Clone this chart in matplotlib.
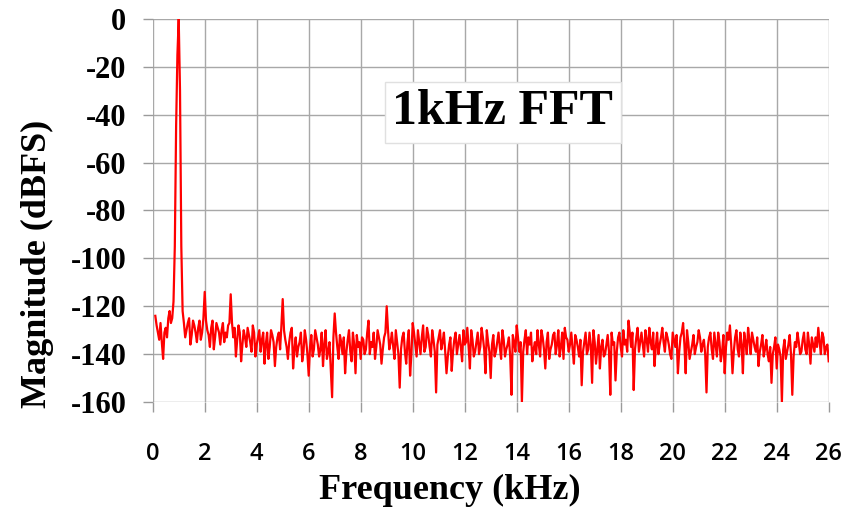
import numpy as np
import matplotlib.pyplot as plt

plt.rcParams['axes.unicode_minus'] = False

# spectrum
# main bins: one value per 0.1 kHz (0.1 .. 26.0 kHz)
freq_khz = np.round(np.arange(1, 261) * 0.1, 1)
mag_dbfs = [
    -124, -131, -127, -142, -129, -125, -127, -118, -45, 0,
    -95, -127, -130, -125, -132, -128, -135, -126, -131, -114,
    -130, -137, -126, -133, -129, -136, -127, -131, -128, -115,
    -133, -141, -128, -143, -130, -137, -132, -139, -131, -136,
    -130, -134, -144, -131, -137, -132, -145, -133, -138, -117,
    -134, -142, -131, -146, -133, -137, -131, -139, -134, -149,
    -132, -138, -133, -141, -131, -136, -142, -135, -158, -123,
    -137, -132, -140, -148, -134, -139, -131, -148, -137, -142,
    -134, -138, -126, -135, -131, -137, -133, -144, -133, -120,
    -138, -131, -142, -135, -154, -133, -139, -135, -149, -127,
    -136, -130, -140, -128, -137, -132, -141, -134, -156, -133,
    -138, -131, -148, -136, -147, -134, -140, -132, -143, -136,
    -129, -146, -134, -139, -131, -137, -133, -148, -135, -150,
    -132, -139, -131, -142, -134, -138, -133, -157, -135, -128,
    -139, -160, -134, -140, -136, -143, -135, -130, -141, -133,
    -146, -131, -138, -132, -140, -130, -137, -142, -133, -139,
    -131, -144, -134, -141, -153, -135, -140, -131, -152, -135,
    -138, -146, -134, -140, -132, -157, -136, -151, -133, -137,
    -130, -134, -126, -137, -155, -133, -139, -131, -141, -134,
    -129, -138, -145, -131, -136, -129, -139, -133, -140, -131,
    -137, -148, -133, -127, -148, -135, -139, -132, -137, -130,
    -139, -134, -156, -133, -138, -131, -141, -135, -139, -148,
    -131, -128, -148, -133, -138, -131, -148, -135, -129, -140,
    -134, -139, -145, -136, -141, -134, -143, -152, -137, -146,
    -138, -160, -134, -139, -132, -157, -135, -131, -140, -134,
    -138, -131, -144, -136, -133, -129, -140, -133, -137, -143,
]
# in-between bins at 0.05, 0.15, ... 25.95 kHz
half_freq_khz = np.round(freq_khz - 0.05, 2)
half_mag_dbfs = [
    np.nan, -128, -134, -135, -131, -133, -122, -125, -95, -15,
    -30, -122, -133, -127, -136, -126, -131, -129, -134, -125,
    -126, -132, -129, -138, -127, -131, -130, -135, -133, -127,
    -127, -129, -134, -131, -136, -133, -129, -135, -128, -141,
    -133, -139, -131, -136, -142, -130, -135, -137, -131, -128,
    -130, -137, -135, -129, -138, -141, -135, -143, -130, -140,
    -137, -141, -130, -136, -138, -145, -130, -139, -147, -133,
    -131, -142, -135, -133, -139, -130, -143, -136, -132, -135,
    -133, -140, -131, -140, -137, -142, -130, -136, -138, -131,
    -130, -135, -137, -130, -140, -138, -131, -144, -130, -140,
    -131, -141, -135, -133, -139, -129, -137, -130, -139, -136,
    -130, -135, -139, -141, -133, -139, -131, -136, -137, -130,
    -135, -137, -130, -141, -135, -140, -129, -138, -130, -139,
    -136, -141, -135, -137, -130, -141, -136, -141, -132, -139,
    -133, -135, -139, -130, -133, -131, -138, -140, -136, -130,
    -138, -135, -142, -136, -131, -136, -141, -131, -129, -134,
    -136, -138, -132, -137, -134, -139, -131, -138, -136, -130,
    -144, -132, -137, -141, -136, -139, -131, -135, -139, -131,
    -141, -136, -139, -131, -131, -138, -129, -135, -136, -130,
    -139, -135, -131, -137, -140, -133, -135, -131, -136, -142,
    -134, -132, -139, -131, -136, -130, -142, -136, -140, -135,
    -133, -136, -140, -137, -131, -142, -136, -131, -143, -132,
    -137, -134, -136, -139, -130, -141, -136, -131, -140, -134,
    -131, -137, -133, -139, -132, -138, -140, -137, -140, -133,
    -136, -141, -138, -142, -136, -140, -141, -137, -135, -139,
    -131, -140, -136, -133, -139, -137, -135, -131, -140, -136,
]
x_ticks = list(range(0, 27, 2))
y_ticks = list(range(-160, 1, 20))

f_all = np.concatenate([freq_khz, half_freq_khz])
m_all = np.concatenate([mag_dbfs, half_mag_dbfs])
order = np.argsort(f_all)
f_all, m_all = f_all[order], m_all[order]
keep = ~np.isnan(m_all)

serif = ['Liberation Serif', 'DejaVu Serif']

fig = plt.figure(figsize=(8.56, 5.09), dpi=100)
ax = fig.add_axes([0.1784, 0.2102, 0.7897, 0.7525])

ax.plot(f_all[keep], m_all[keep], color='#ff0000', lw=1.6)

ax.set_xlim(0, 26)
ax.set_ylim(-160, 0)
ax.set_xticks(x_ticks)
ax.set_yticks(y_ticks)
ax.grid(True, color='#a8a8a8', lw=1.0)
ax.set_axisbelow(True)
for s in ax.spines.values():
    s.set_visible(False)

ax.tick_params(axis='both', color='#9a9a9a', length=7, width=1)
ax.tick_params(axis='x', pad=22)
ax.tick_params(axis='y', pad=12)
for lab in ax.get_xticklabels():
    lab.set_fontfamily(['Open Sans', 'DejaVu Sans'])
    lab.set_fontsize(17)
    lab.set_fontweight('semibold')
for lab in ax.get_yticklabels():
    lab.set_fontfamily(serif)
    lab.set_fontsize(22)
    lab.set_fontweight('bold')

ax.set_xlabel('Frequency (kHz)', family=serif, fontsize=26, fontweight='bold')
ax.set_ylabel('Magnitude (dBFS)', family=serif, fontsize=26, fontweight='bold')
ax.xaxis.set_label_coords(0.44, -0.23)
ax.xaxis.label.set_va('center')
ax.yaxis.set_label_coords(-0.171, 0.36)
ax.yaxis.label.set_va('center')

ax.text(0.518, 0.757, '1kHz FFT', transform=ax.transAxes, ha='center', va='center',
        family=serif, fontsize=36, fontweight='bold',
        bbox=dict(boxstyle='square,pad=0.15', fc='white', ec='#e0e0e0', lw=1))

fig.savefig('out.png', dpi=100)
